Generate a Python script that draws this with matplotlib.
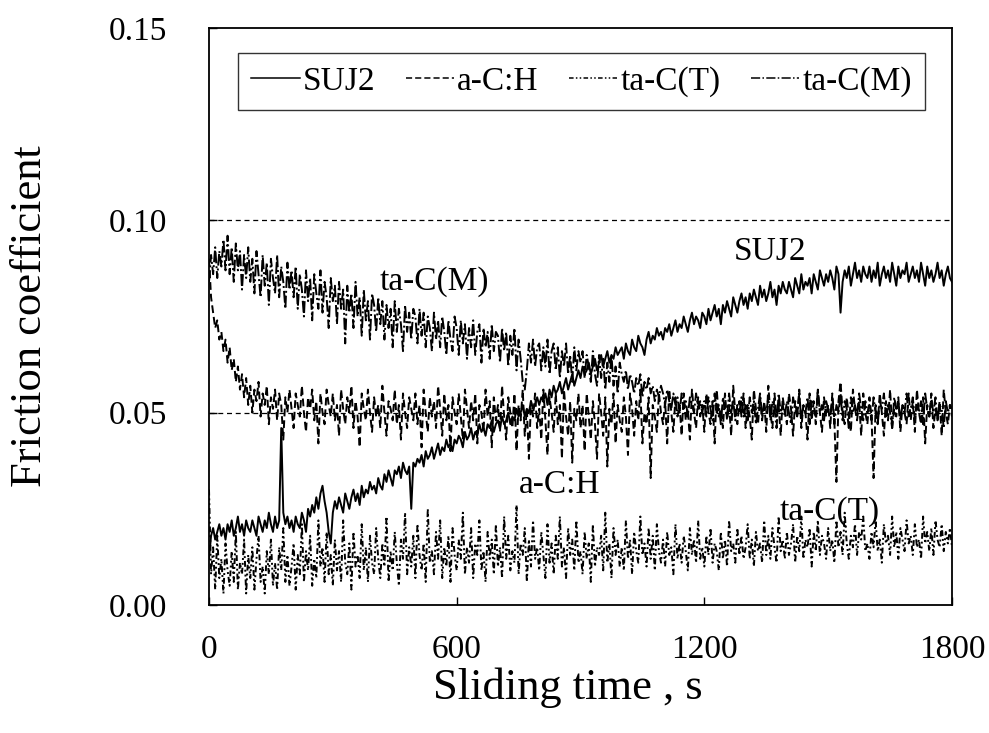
import numpy as np
import matplotlib
matplotlib.use("Agg")
import matplotlib.pyplot as plt

plt.rcParams['font.family'] = ['Liberation Serif', 'DejaVu Serif']

step_s = 5  # sampling interval of the read-off values, seconds

# friction coefficients in thousandths (x 0.001), one value every 5 s, 0..1800 s
suj2_milli = [
    12, 18, 20, 17, 19, 21, 18, 20, 17, 21, 19, 22, 18, 20, 23, 19, 21, 18, 22, 20,
    19, 22, 20, 18, 23, 21, 19, 22, 20, 24, 21, 19, 23, 20, 22, 46, 24, 21, 23, 20,
    22, 19, 23, 21, 20, 24, 22, 19, 25, 23, 26, 24, 28, 25, 29, 31, 27, 24, 19, 16,
    24, 27, 25, 28, 26, 24, 29, 27, 25, 28, 30, 27, 29, 26, 31, 28, 30, 29, 32, 30,
    31, 29, 33, 31, 30, 34, 32, 35, 33, 31, 35, 34, 36, 33, 37, 35, 34, 36, 25, 37,
    36, 38, 37, 39, 36, 40, 38, 39, 41, 38, 40, 42, 39, 41, 40, 43, 41, 42, 40, 43,
    42, 44, 43, 41, 45, 43, 44, 46, 43, 45, 44, 47, 45, 46, 44, 47, 46, 48, 45, 47,
    48, 46, 49, 47, 48, 50, 47, 49, 48, 51, 49, 50, 52, 49, 51, 50, 53, 51, 52, 54,
    52, 54, 53, 55, 52, 56, 54, 57, 55, 56, 58, 55, 57, 59, 56, 58, 60, 57, 59, 61,
    59, 62, 60, 61, 63, 60, 62, 64, 61, 63, 65, 62, 64, 66, 63, 65, 64, 67, 65, 66,
    67, 64, 68, 66, 65, 69, 67, 66, 70, 68, 67, 65, 69, 71, 68, 70, 69, 72, 70, 71,
    69, 72, 71, 73, 70, 72, 74, 71, 73, 72, 75, 73, 71, 74, 76, 73, 75, 74, 72, 76,
    75, 73, 77, 74, 76, 78, 75, 77, 73, 78, 76, 79, 77, 75, 80, 78, 76, 79, 81, 78,
    80, 77, 81, 79, 82, 80, 78, 83, 80, 82, 79, 81, 84, 80, 82, 78, 83, 81, 84, 82,
    81, 84, 82, 80, 85, 83, 81, 86, 82, 84, 83, 85, 81, 86, 84, 82, 87, 85, 83, 86,
    84, 87, 85, 82, 88, 86, 76, 84, 87, 85, 88, 83, 86, 89, 85, 87, 84, 88, 86, 85,
    88, 84, 87, 85, 89, 83, 86, 88, 85, 87, 84, 89, 86, 83, 88, 85, 87, 86, 89, 84,
    86, 88, 85, 87, 84, 89, 86, 83, 88, 85, 87, 84, 86, 89, 85, 87, 83, 86, 88, 85,
    84,
]

ach_milli = [
    90, 80, 76, 72, 74, 69, 71, 66, 69, 63, 67, 61, 64, 58, 62, 56, 60, 54, 59, 52,
    57, 50, 56, 53, 58, 49, 55, 52, 57, 47, 54, 51, 56, 48, 55, 52, 43, 54, 50, 56,
    51, 46, 55, 52, 49, 57, 50, 45, 54, 51, 56, 48, 53, 42, 55, 50, 47, 56, 52, 49,
    55, 48, 52, 44, 56, 51, 47, 54, 50, 57, 46, 53, 49, 41, 55, 51, 48, 56, 50, 45,
    54, 49, 52, 46, 57, 50, 44, 53, 51, 48, 56, 47, 52, 43, 55, 50, 46, 54, 51, 48,
    55, 47, 52, 41, 56, 50, 45, 54, 49, 53, 46, 57, 51, 44, 55, 48, 52, 40, 54, 50,
    47, 55, 49, 43, 56, 51, 46, 53, 48, 55, 42, 52, 50, 45, 56, 49, 53, 41, 54, 48,
    52, 45, 57, 49, 43, 54, 50, 46, 55, 40, 52, 48, 56, 44, 51, 38, 53, 49, 55, 46,
    51, 43, 56, 48, 39, 54, 50, 45, 55, 47, 52, 38, 56, 49, 44, 53, 37, 51, 48, 55,
    46, 52, 40, 55, 49, 43, 53, 47, 38, 55, 50, 44, 54, 36, 51, 47, 55, 42, 52, 48,
    45, 54, 49, 39, 55, 51, 44, 53, 48, 56, 42, 50, 47, 54, 33, 52, 49, 45, 55, 50,
    47, 53, 42, 56, 50, 45, 54, 49, 52, 44, 55, 48, 51, 43, 56, 50, 46, 54, 49, 52,
    45, 55, 50, 47, 53, 42, 56, 49, 51, 46, 55, 48, 52, 44, 57, 50, 47, 53, 49, 55,
    46, 52, 49, 43, 56, 51, 47, 54, 48, 53, 45, 57, 50, 46, 55, 49, 52, 44, 54, 50,
    47, 55, 51, 44, 53, 49, 56, 46, 52, 50, 43, 55, 48, 53, 47, 56, 50, 45, 54, 49,
    52, 46, 55, 48, 32, 53, 58, 50, 47, 54, 49, 45, 56, 51, 48, 53, 44, 55, 50, 47,
    54, 49, 33, 52, 47, 55, 50, 44, 53, 48, 56, 46, 51, 49, 54, 45, 52, 50, 47, 55,
    48, 53, 45, 56, 50, 47, 54, 42, 52, 49, 55, 46, 51, 48, 53, 44, 56, 50, 47, 52,
    49,
]

tacm_milli = [
    84, 91, 86, 93, 85, 92, 88, 95, 87, 96, 86, 93, 84, 94, 87, 92, 82, 91, 85, 93,
    84, 90, 81, 92, 86, 80, 91, 83, 89, 78, 90, 85, 81, 91, 80, 88, 84, 77, 89, 82,
    87, 80, 88, 77, 86, 82, 75, 87, 79, 85, 74, 86, 81, 77, 87, 76, 84, 80, 72, 85,
    79, 83, 73, 84, 77, 82, 68, 83, 76, 81, 72, 84, 75, 80, 70, 82, 74, 79, 69, 81,
    78, 71, 80, 73, 79, 69, 78, 72, 77, 67, 79, 71, 77, 73, 66, 78, 71, 76, 69, 77,
    75, 68, 77, 70, 76, 67, 75, 72, 66, 76, 69, 74, 67, 75, 71, 65, 74, 69, 66, 75,
    72, 65, 74, 68, 73, 64, 72, 67, 74, 65, 71, 73, 63, 72, 67, 71, 64, 73, 66, 71,
    70, 63, 72, 66, 71, 62, 70, 65, 72, 61, 69, 64, 58, 56, 61, 68, 63, 69, 62, 67,
    68, 61, 67, 62, 69, 60, 66, 68, 61, 67, 59, 66, 62, 68, 60, 65, 58, 67, 61, 66,
    63, 66, 59, 65, 62, 58, 66, 60, 57, 65, 59, 64, 56, 63, 58, 65, 57, 62, 55, 63,
    60, 58, 61, 56, 60, 58, 55, 59, 57, 60, 54, 58, 56, 59, 55, 57, 53, 56, 54, 57,
    55, 52, 56, 53, 51, 55, 52, 54, 50, 55, 51, 53, 49, 54, 52, 50, 55, 51, 53, 50,
    53, 49, 54, 51, 48, 55, 50, 52, 47, 54, 51, 49, 55, 50, 53, 48, 52, 50, 54, 49,
    52, 48, 54, 50, 53, 47, 51, 55, 49, 52, 50, 54, 48, 53, 51, 46, 55, 50, 52, 49,
    53, 50, 47, 54, 51, 49, 55, 48, 52, 50, 54, 47, 53, 51, 49, 56, 50, 52, 48, 53,
    51, 49, 54, 47, 52, 50, 55, 48, 53, 51, 46, 54, 50, 52, 49, 55, 51, 48, 53, 50,
    52, 48, 54, 50, 47, 53, 51, 55, 49, 52, 50, 46, 54, 51, 53, 48, 52, 50, 55, 49,
    51, 54, 48, 52, 50, 53, 47, 55, 51, 49, 53, 50, 54, 48, 52, 51, 46, 53, 50, 52,
    51,
]

tact_milli = [
    30, 8, 15, 4, 18, 7, 12, 3, 16, 9, 5, 14, 6, 19, 4, 11, 8, 17, 3, 13,
    7, 15, 4, 12, 18, 6, 10, 3, 14, 8, 17, 5, 11, 4, 15, 9, 20, 6, 13, 5,
    10, 16, 4, 13, 8, 21, 6, 14, 9, 18, 5, 12, 7, 22, 10, 15, 6, 19, 8, 13,
    5, 17, 9, 14, 6, 22, 11, 8, 16, 4, 19, 10, 13, 7, 21, 9, 15, 6, 18, 11,
    8, 20, 12, 7, 16, 10, 23, 6, 14, 9, 19, 11, 5, 17, 12, 24, 8, 15, 10, 18,
    7, 21, 13, 9, 16, 6, 25, 11, 14, 8, 19, 12, 22, 7, 15, 10, 18, 6, 20, 13,
    9, 17, 12, 24, 8, 15, 11, 20, 7, 16, 13, 22, 9, 14, 6, 19, 12, 17, 8, 21,
    10, 15, 7, 23, 12, 18, 9, 14, 11, 26, 8, 16, 13, 20, 6, 17, 10, 22, 12, 15,
    9, 19, 13, 7, 21, 11, 16, 8, 18, 12, 23, 10, 15, 7, 20, 13, 17, 9, 22, 11,
    14, 8, 19, 12, 16, 6, 21, 10, 15, 13, 18, 9, 24, 11, 16, 7, 20, 13, 17, 10,
    15, 9, 22, 12, 17, 8, 19, 14, 11, 23, 13, 16, 10, 20, 12, 18, 9, 21, 14, 11,
    17, 10, 19, 13, 15, 8, 21, 12, 16, 11, 18, 14, 9, 20, 13, 17, 11, 22, 12, 15,
    10, 18, 13, 20, 11, 16, 14, 9, 19, 12, 17, 10, 22, 14, 16, 11, 20, 13, 18, 12,
    15, 21, 12, 17, 10, 19, 14, 16, 11, 22, 13, 18, 12, 20, 15, 11, 23, 14, 17, 12,
    19, 13, 16, 21, 11, 18, 14, 23, 12, 17, 15, 20, 10, 19, 14, 22, 13, 18, 16, 12,
    20, 14, 17, 11, 22, 15, 19, 13, 24, 16, 12, 18, 15, 21, 13, 19, 17, 23, 14, 16,
    12, 19, 15, 22, 14, 17, 11, 21, 16, 18, 13, 23, 15, 19, 12, 20, 17, 14, 22, 16,
    18, 13, 21, 15, 17, 12, 23, 16, 19, 14, 20, 13, 22, 17, 15, 21, 14, 19, 16, 20,
    15,
]

series_names = ["SUJ2", "a-C:H", "ta-C(T)", "ta-C(M)"]
x_ticks = [0, 600, 1200, 1800]
y_ticks = [0.00, 0.05, 0.10, 0.15]
grid_levels = [0.05, 0.10]

W, H = 989, 733
fig = plt.figure(figsize=(W / 100, H / 100), dpi=100)
ax_l, ax_r, ax_t, ax_b = 209, 952, 28, 605
ax = fig.add_axes([ax_l / W, 1 - ax_b / H, (ax_r - ax_l) / W, (ax_b - ax_t) / H])

for y in grid_levels:
    ax.axhline(y, color='black', lw=0.9, ls=(0, (4, 3)), zorder=0)

styles = ['-', (0, (4, 2)), (0, (3, 1.5, 1, 1.5, 1, 1.5)), (0, (6, 1.5, 1, 1.5))]
handles = []
for name, vals, ls in zip(series_names, (suj2_milli, ach_milli, tact_milli, tacm_milli), styles):
    d = np.array(vals) * 0.001
    t = np.arange(len(d)) * step_s
    h, = ax.plot(t, d, color='black', lw=1.4, ls=ls, label=name)
    handles.append(h)

ax.set_xlim(0, 1800)
ax.set_ylim(0, 0.15)
ax.set_xticks(x_ticks)
ax.set_xticklabels([str(v) for v in x_ticks])
ax.set_yticks(y_ticks)
ax.set_yticklabels([f"{v:.2f}" for v in y_ticks])
ax.tick_params(direction='in', labelsize=24, length=6, width=1)
ax.tick_params(axis='x', pad=21)
ax.tick_params(axis='y', pad=30)
for s in ax.spines.values():
    s.set_linewidth(1.3)

fig.text(568 / W, 1 - 688 / H, "Sliding time , s", fontsize=32, ha='center', va='center')
fig.text(30 / W, 1 - 316 / H, "Friction coefficient", fontsize=32, ha='center',
         va='center', rotation=90)

leg = ax.legend(handles=handles, loc='upper left', ncol=4, fontsize=24,
                frameon=True, fancybox=False, edgecolor='black',
                bbox_to_anchor=(238 / W, 1 - 53 / H), bbox_transform=fig.transFigure,
                borderaxespad=0, handlelength=1.45, handletextpad=0.1,
                columnspacing=0.9, borderpad=0.4)
leg.get_frame().set_linewidth(1.0)
for lh in leg.get_lines():
    lh.set_linewidth(1.1)

ax.text(545, 0.0842, "ta-C(M)", fontsize=24, ha='center', va='center')
ax.text(1359, 0.0918, "SUJ2", fontsize=24, ha='center', va='center')
ax.text(850, 0.0312, "a-C:H", fontsize=24, ha='center', va='center')
ax.text(1504, 0.0242, "ta-C(T)", fontsize=24, ha='center', va='center')

fig.savefig("out.png", dpi=100)
